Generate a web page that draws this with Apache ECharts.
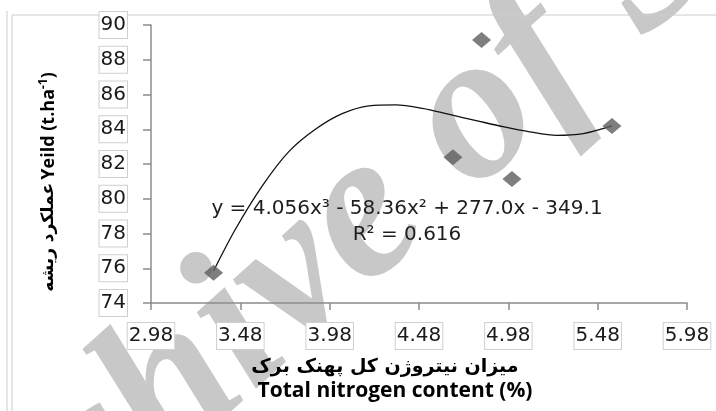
<!DOCTYPE html>
<html>
<head>
<meta charset="utf-8">
<script src="https://cdn.jsdelivr.net/npm/echarts@6/dist/echarts.min.js"></script>
<style>
  html, body { margin: 0; padding: 0; background: #fff; }
  #chart { width: 716px; height: 411px; }
</style>
</head>
<body>
<div id="chart"></div>
<script>
// measured points (total nitrogen %, yield t/ha)
const nitrogen = [3.33, 4.67, 4.83, 5.00, 5.56]
const yieldVals = [75.74, 82.39, 89.14, 81.14, 84.19]

// trend curve
const trendX = [3.33, 3.45, 3.60, 3.75, 3.90, 4.05, 4.20, 4.35, 4.50, 4.65, 4.80, 4.95, 5.10, 5.25, 5.40, 5.56]
const trendY = [75.84, 78.2, 80.7, 82.7, 84.0, 84.9, 85.35, 85.4, 85.2, 84.85, 84.5, 84.15, 83.85, 83.65, 83.75, 84.19]

const xTickLabels = ['2.98', '3.48', '3.98', '4.48', '4.98', '5.48', '5.98']
const xStart = 2.98
const xStep = 0.5
const yMin = 74
const yMax = 90
const yStep = 2

const equation = 'y = 4.056x³ - 58.36x² + 277.0x - 349.1'
const rSquared = 'R² = 0.616'

const chart = echarts.init(document.getElementById('chart'))

const labelBox = {
  fontFamily: 'DejaVu Sans',
  fontSize: 20,
  color: '#1a1a1a',
  backgroundColor: '#fff',
  borderColor: '#cfcfcf',
  borderWidth: 1,
  padding: [1, 1, 1, 1],
  lineHeight: 24
}

const option = {
  animation: false,
  grid: { left: 151, right: 29, top: 25, bottom: 108 },
  xAxis: {
    type: 'value',
    min: 0,
    max: xStep * (xTickLabels.length - 1),
    interval: xStep,
    axisLine: { show: true, lineStyle: { color: '#8c8c8c', width: 1.5 } },
    axisTick: { show: true, length: 7, lineStyle: { color: '#8c8c8c', width: 1.5 } },
    splitLine: { show: false },
    axisLabel: Object.assign({
      margin: 20,
      formatter: v => xTickLabels[Math.round(v / xStep)]
    }, labelBox)
  },
  yAxis: {
    type: 'value',
    min: yMin,
    max: yMax,
    interval: yStep,
    axisLine: { show: true, lineStyle: { color: '#8c8c8c', width: 1.5 } },
    axisTick: { show: true, length: 8, lineStyle: { color: '#8c8c8c', width: 1.5 } },
    splitLine: { show: false },
    axisLabel: Object.assign({ margin: 24 }, labelBox)
  },
  graphic: [
    {
      type: 'text', z: -10, silent: true,
      x: -35, y: 719, rotation: 42 * Math.PI / 180,
      style: {
        text: 'Archive of SID',
        font: 'italic bold 210px "Liberation Serif"',
        fill: '#c8c8c8',
        textAlign: 'left',
        textVerticalAlign: 'bottom'
      }
    },
    {
      type: 'line', z: -5, silent: true,
      shape: { x1: 7, y1: 11, x2: 7, y2: 411 },
      style: { stroke: '#cccccc', lineWidth: 1 }
    },
    {
      type: 'rect', z: -5, silent: true,
      shape: { x: 12, y: 15, width: 720, height: 420 },
      style: { stroke: '#cccccc', fill: 'none', lineWidth: 1 }
    },
    {
      type: 'text', x: 407, y: 209,
      style: {
        text: equation,
        font: '20px "DejaVu Sans"',
        fill: '#1e1e1e',
        textAlign: 'center',
        textVerticalAlign: 'middle'
      }
    },
    {
      type: 'text', x: 407, y: 235,
      style: {
        text: rSquared,
        font: '20px "DejaVu Sans"',
        fill: '#1e1e1e',
        textAlign: 'center',
        textVerticalAlign: 'middle'
      }
    },
    {
      type: 'text', x: 49, y: 182, rotation: Math.PI / 2,
      style: {
        text: '{fa|عملکرد ریشه} {en|Yeild (t.ha}{sup|-1}{en|)}',
        textAlign: 'center',
        textVerticalAlign: 'middle',
        fill: '#000',
        rich: {
          fa: { fontFamily: 'DejaVu Sans', fontWeight: 'bold', fontSize: 17, lineHeight: 22 },
          en: { fontFamily: 'Open Sans', fontWeight: 'bold', fontSize: 18, lineHeight: 22 },
          sup: { fontFamily: 'Open Sans', fontWeight: 'bold', fontSize: 12, lineHeight: 22, verticalAlign: 'top' }
        }
      }
    },
    {
      type: 'text', x: 385, y: 367,
      style: {
        text: 'میزان نیتروژن کل پهنک برک',
        font: 'bold 19px "DejaVu Sans"',
        fill: '#000',
        textAlign: 'center',
        textVerticalAlign: 'middle'
      }
    },
    {
      type: 'text', x: 395, y: 391,
      style: {
        text: 'Total nitrogen content (%)',
        font: 'bold 21px "Open Sans"',
        fill: '#000',
        textAlign: 'center',
        textVerticalAlign: 'middle'
      }
    }
  ],
  series: [
    {
      name: 'trend',
      type: 'line',
      data: trendX.map((x, i) => [x - xStart, trendY[i]]),
      smooth: 0.3,
      showSymbol: false,
      lineStyle: { color: '#111', width: 1.3 },
      z: 3
    },
    {
      name: 'yield',
      type: 'scatter',
      data: nitrogen.map((x, i) => [x - xStart, yieldVals[i]]),
      symbol: 'diamond',
      symbolSize: [19, 16],
      itemStyle: { color: '#5e5e5e' },
      z: 4
    }
  ]
}

chart.setOption(option)
</script>
</body>
</html>
